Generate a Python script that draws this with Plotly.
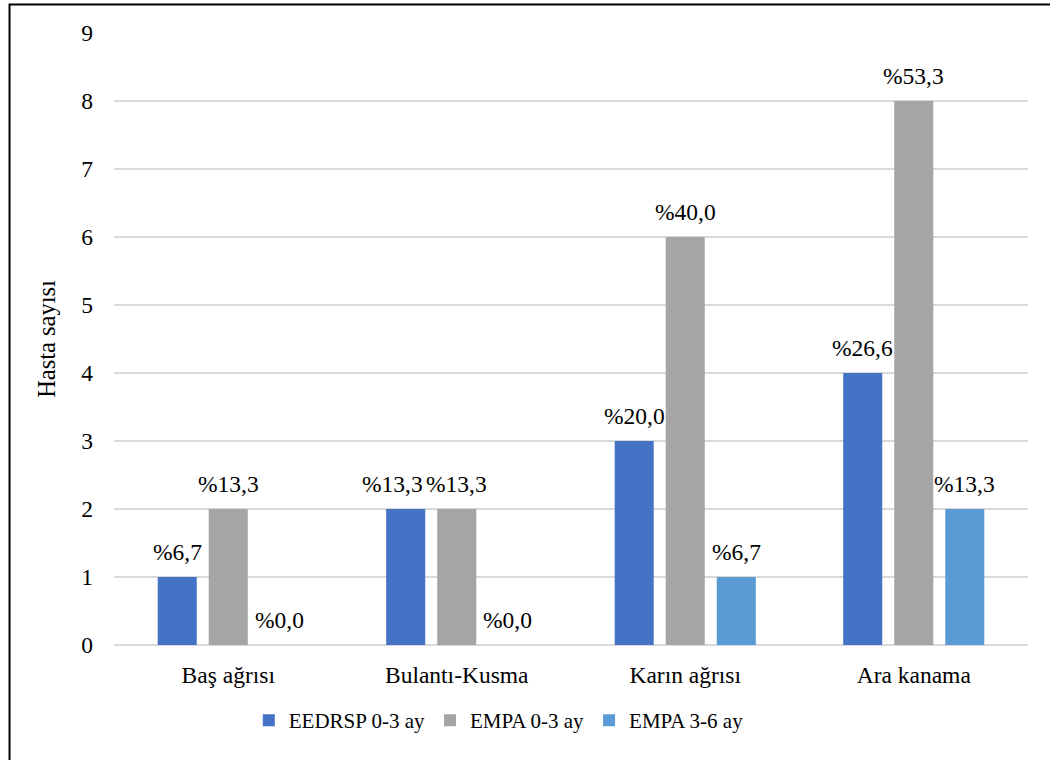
import plotly.graph_objects as go

categories = ["Baş ağrısı", "Bulantı-Kusma", "Karın ağrısı", "Ara kanama"]
series_names = ["EEDRSP 0-3 ay", "EMPA 0-3 ay", "EMPA 3-6 ay"]
eedrsp_0_3 = [1, 2, 3, 4]
empa_0_3 = [2, 2, 6, 8]
empa_3_6 = [0, 0, 1, 2]
eedrsp_0_3_pct = ["%6,7", "%13,3", "%20,0", "%26,6"]
empa_0_3_pct = ["%13,3", "%13,3", "%40,0", "%53,3"]
empa_3_6_pct = ["%0,0", "%0,0", "%6,7", "%13,3"]
y_ticks = list(range(0, 10))

colors = ["#4472C4", "#A5A5A5", "#5B9BD5"]
FONT = "Liberation Serif, Times New Roman, serif"
BARGAP = 0.33
# (series, category) -> horizontal pixel nudge for labels that would collide
label_nudge = {(0, 1): -13}

series_vals = [eedrsp_0_3, empa_0_3, empa_3_6]
series_lbls = [eedrsp_0_3_pct, empa_0_3_pct, empa_3_6_pct]

fig = go.Figure()
for name, vals, col in zip(series_names, series_vals, colors):
    fig.add_trace(go.Bar(
        x=categories, y=vals, name=name,
        marker=dict(color=col, line=dict(width=0)),
    ))

# percentage labels above each bar, placed at the grouped bar centres
n = len(series_names)
slot = (1 - BARGAP) / n
annotations = []
for i, (vals, lbls) in enumerate(zip(series_vals, series_lbls)):
    for j, (v, t) in enumerate(zip(vals, lbls)):
        annotations.append(dict(
            x=j + (i - (n - 1) / 2) * slot, y=v, xref="x", yref="y",
            text=t, showarrow=False, yanchor="bottom", yshift=10,
            xshift=label_nudge.get((i, j), 0),
            font=dict(family=FONT, size=23.5, color="#000000"),
        ))

# outer frame around the chart area
fig.add_shape(type="rect", xref="paper", yref="paper",
              x0=-0.1143, x1=1.03, y0=-0.21, y1=1.0466,
              line=dict(color="#000000", width=2), fillcolor="rgba(0,0,0,0)", layer="below")

fig.update_layout(
    width=1050, height=760,
    margin=dict(l=114, r=22, t=33, b=115),
    paper_bgcolor="white", plot_bgcolor="white",
    font=dict(family=FONT, size=23.5, color="#000000"),
    barmode="group", bargap=BARGAP, bargroupgap=0.235,
    annotations=annotations,
    showlegend=True,
    legend=dict(orientation="h", x=0.421, xanchor="center", y=-0.09, yanchor="top",
                font=dict(family=FONT, size=21), itemwidth=30, tracegroupgap=0),
    xaxis=dict(showgrid=False, showline=False, ticks="", tickfont=dict(size=23.5),
               ticklabelstandoff=13),
    yaxis=dict(range=[0, 9], tickvals=y_ticks, showgrid=True, gridcolor="#D9D9D9",
               gridwidth=1.5, zeroline=True, zerolinecolor="#D9D9D9", zerolinewidth=1.5,
               showline=False, ticks="", tickfont=dict(size=23.5), ticklabelstandoff=20,
               title=dict(text="Hasta sayısı", font=dict(size=24.5), standoff=18)),
)

fig.write_html("out.html")
